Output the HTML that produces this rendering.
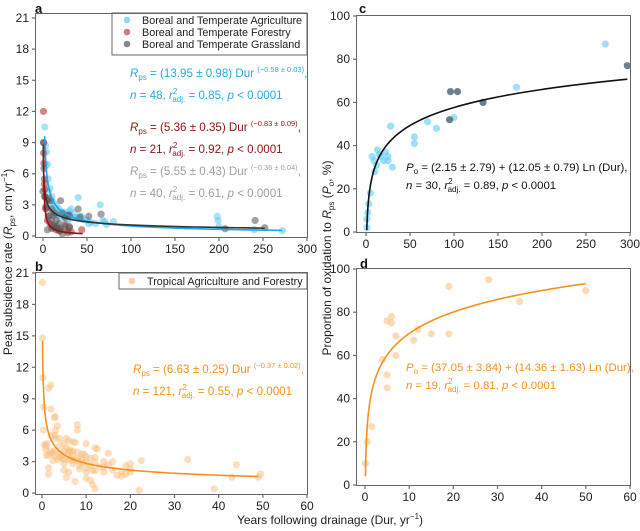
<!DOCTYPE html><html><head><meta charset="utf-8"><style>
body{margin:0;background:#fff;position:relative;width:640px;height:531px;overflow:hidden}
svg{display:block;position:absolute;left:0;top:0;font-family:"Liberation Sans",Arial,sans-serif}
.bx{position:absolute;border:1.5px solid #666;box-sizing:border-box;z-index:2;pointer-events:none}
</style></head><body>
<svg id="s" width="640" height="531" viewBox="0 0 640 531" xmlns="http://www.w3.org/2000/svg">
<g id="g"></g>
</svg>
<div class="bx" style="left:35px;top:13px;width:273px;height:225px"></div>
<div class="bx" style="left:35px;top:272px;width:273px;height:223px"></div>
<div class="bx" style="left:356px;top:15px;width:275px;height:218px"></div>
<div class="bx" style="left:356px;top:268px;width:275px;height:218px"></div>
<script>
var S=document.getElementById('g'),NS='http://www.w3.org/2000/svg';
function el(t,a,txt){var e=document.createElementNS(NS,t);for(var k in a)e.setAttribute(k,a[k]);if(txt!==undefined)e.innerHTML=txt;S.appendChild(e);return e;}
function fr(x,y,w,h){el('rect',{x:x,y:y,width:w,height:h,fill:'#6e6e6e'})}
function panel(P){
 var X=function(v){return P.x0+(v-P.xmin)/(P.xmax-P.xmin)*(P.x1-P.x0)},Y=function(v){return P.y0+(v-P.ymin)/(P.ymax-P.ymin)*(P.y1-P.y0)};
 P.X=X;P.Y=Y;
 P.xt.forEach(function(v){var x=X(v);fr(x-0.6,P.by,1.2,4);el('text',{x:x,y:P.by+16,'font-size':12,'text-anchor':'middle',fill:'#222'},v)});
 P.yt.forEach(function(v){var y=Y(v);fr(P.bx-4,y-0.6,4,1.2);el('text',{x:P.bx-7,y:y+4,'font-size':12,'text-anchor':'end',fill:'#222'},v)});
 return P;}
function pts(P,arr,col,op){arr.forEach(function(p){el('circle',{cx:P.X(p[0]),cy:P.Y(p[1]),r:3.6,fill:col,'fill-opacity':op})})}
function curve(P,f,a,b,col,log){var d='';for(var i=0;i<=200;i++){var t=i/200,x=log?Math.exp(Math.log(a)+t*(Math.log(b)-Math.log(a))):a+t*(b-a);var y=f(x);d+=(i?'L':'M')+P.X(x).toFixed(2)+','+P.Y(y).toFixed(2)}el('path',{d:d,fill:'none',stroke:col,'stroke-width':1.6})}
var A=panel({xmin:0,xmax:300,ymin:0,ymax:21,x0:43,x1:307,y0:236,y1:18,bx:36,rx:307,ty:14,by:237,xt:[0,50,100,150,200,250,300],yt:[0,3,6,9,12,15,18,21]});
pts(A,[[2,10.5],[3,8.7],[4,8.1],[5,6.9],[6,5.5],[8,4.6],[10,3.8],[12,3.2],[15,2.9],[18,2.6],[20,2.4],[22,2.2],[25,2.3],[28,2.0],[30,2.4],[32,2.6],[35,2.2],[38,1.8],[40,3.7],[42,1.9],[45,1.6],[50,1.5],[52,1.2],[55,1.3],[60,1.2],[65,3.0],[68,1.5],[70,1.4],[72,1.1],[80,1.4],[20,1.8],[15,2.0],[25,1.6],[198,1.9],[199,1.5],[200,0.9],[240,0.6],[272,0.5],[10,2.6],[8,3.2],[18,2.0],[28,1.5],[35,1.8],[44,1.9],[3,6.8],[6,4.3],[14,2.5],[30,1.7]],'#5ecbf6',0.55);
pts(A,[[0.5,12],[0.8,9],[0.7,8],[1,7],[1.5,5],[2,4.5],[2,3.8],[3,2.6],[4,2.7],[5,1.5],[8,1.2],[10,1],[12,0.8],[15,0.6],[18,0.5],[20,0.7],[25,1.1],[28,0.5],[30,0.9],[32,0.4],[44,0.6]],'#b8474b',0.65);
pts(A,[[0.5,9],[1,6.5],[1.5,5.5],[0,4.3],[2,3.8],[5,3.4],[7,3.6],[9,3.4],[10,2.6],[12,2.0],[14,2.2],[15,1.5],[18,1.2],[20,3.4],[22,2.2],[25,1.8],[28,2.0],[30,2.0],[40,2.6],[42,1.8],[52,1.9],[66,2.1],[8,2.0],[10,1.5],[12,1.0],[14,0.8],[16,0.9],[18,0.6],[20,0.5],[25,0.9],[30,0.8],[5,0.6],[10,0.7],[22,0.2],[28,0.3],[207,0.7],[241,1.5],[252,0.8],[3,2.8],[6,1.9]],'#555',0.55);
curve(A,function(x){return 13.95*Math.pow(x,-0.58)},1.9,272,'#1ba7ea',1);
curve(A,function(x){return 5.55*Math.pow(x,-0.36)},0.3,252,'#333',1);
curve(A,function(x){return 5.36*Math.pow(x,-0.83)},0.55,45,'#8b1414',1);
el('rect',{x:112,y:13,width:195,height:42,fill:'#fff',stroke:'#666'});
[['#5ecbf6','Boreal and Temperate Agriculture',24],['#b8474b','Boreal and Temperate Forestry',36],['#555','Boreal and Temperate Grassland',48]].forEach(function(l){el('circle',{cx:127,cy:l[2]-4,r:3.3,fill:l[0],'fill-opacity':0.7});el('text',{x:142,y:l[2],'font-size':10.8,fill:'#222'},l[1])});
function eq(x,y,col,c1,n,r,exp){el('text',{x:x,y:y,'font-size':11.6,fill:col},'<tspan font-style="italic">R</tspan><tspan font-size="8" dy="3">ps</tspan><tspan dy="-3"> = '+c1+' Dur </tspan><tspan font-size="7.5" dy="-5">'+exp+'</tspan><tspan dy="5">,</tspan>');
 el('text',{x:x,y:y+22,'font-size':11.6,fill:col},'<tspan font-style="italic">n</tspan> = '+n+', <tspan font-style="italic">r</tspan><tspan font-size="8" dy="-5">2</tspan><tspan font-size="8" dx="-5" dy="8">adj.</tspan><tspan dy="-3"> = '+r+', </tspan><tspan font-style="italic">p</tspan> &lt; 0.0001');}
eq(130,77,'#29aae1','(13.95 ± 0.98)',48,'0.85','(−0.58 ± 0.03)');
eq(130,131,'#8b1414','(5.36 ± 0.35)',21,'0.92','(−0.83 ± 0.09)');
eq(130,175,'#a0a0a0','(5.55 ± 0.43)',40,'0.61','(−0.36 ± 0.04)');
var B=panel({xmin:0,xmax:60,ymin:0,ymax:21,x0:42,x1:307,y0:493,y1:273,bx:36,rx:307,ty:273,by:494,xt:[0,10,20,30,40,50,60],yt:[0,3,6,9,12,15,18,21]});
var bp=[[0.1,20.1],[0.1,14.8],[0.2,11],[0.4,8.2],[1.5,10],[2,10.3],[2,8],[3,7.3],[2.8,7.2],[3,6],[3.5,6.4],[8,6.5],[8,6],[0.5,4.6],[1,4.7],[0.8,4.2],[1,3.6],[1.5,3.6],[2,4],[2.5,3.8],[3,5.5],[3,5.2],[4,5.2],[5,4.7],[5.5,5.2],[6,5],[7,4.9],[7.5,4.8],[5,4],[6,3.8],[6.5,4],[7,3.6],[4,3.4],[4.5,3.3],[2.5,3.1],[3.5,3.2],[5,2.8],[5,2.2],[5.5,1.5],[6,2],[7.5,1.1],[8,3.1],[8.5,2.3],[9,3.2],[9.5,3.7],[10,4.7],[10,3],[10,2.4],[10,2],[10,1.4],[11,1.2],[11.5,0.8],[12,0.4],[12,4.3],[12.5,4.2],[12,3.4],[11.5,2.2],[12,2.1],[14,3],[14,2],[15,3.8],[15,2.7],[16,3],[17,1.7],[18,1.6],[19,1.8],[19,2.6],[20,2.8],[20,2.3],[22,0.25],[22.5,3.1],[33,3.2],[39,0.4],[43,1.5],[44,2.7],[49,1.5],[49.5,1.8],[1.5,2.4],[1.5,1.8],[4,3.8],[6,3.2],[7,2.8],[9,3.7],[8,3.9],[2,5.5],[3,4.1],[4.5,3.6],[5.5,4.3],[6.5,3.3],[7,4],[8,3.3],[9,2.9],[10,3.5],[11,2.6],[13,2.5],[6,3.9],[5,3.2],[3,3.5],[2,3.8],[1,4.5],[4,4.5],[7,3.1],[8.5,2.6],[11,3.3],[12,2.9],[14,2.5],[16,2.2],[18,2.1],[20,2.0],[0.3,6],[6.3,4.1]];
pts(B,bp,'#fbbd7c',0.5);
curve(B,function(x){return 6.63*Math.pow(x,-0.37)},0.12,49,'#f7901e',1);
el('rect',{x:119,y:273,width:188,height:16,fill:'#fff',stroke:'#666'});
el('circle',{cx:132,cy:281,r:3.3,fill:'#fbbd7c','fill-opacity':0.7});
el('text',{x:147,y:285,'font-size':10.8,fill:'#222'},'Tropical Agriculture and Forestry');
eq(133,373,'#f7901e','(6.63 ± 0.25)',121,'0.55','(−0.37 ± 0.02)');
var C=panel({xmin:0,xmax:300,ymin:0,ymax:100,x0:366,x1:630,y0:232,y1:16,bx:357,rx:630,ty:16,by:232,xt:[0,50,100,150,200,250,300],yt:[0,20,40,60,80,100]});
pts(C,[[1,2],[1,6],[2,9],[3,13],[5,18],[7,35],[9,33],[10,28],[12,31],[13,38],[15,36],[17,35],[20,33],[22,37],[25,35],[25,33],[28,49],[30,30],[55,44],[55,41],[70,51],[80,48],[100,53],[171,67],[272,87]],'#5ecbf6',0.6);
pts(C,[[96,65],[95,52],[104,65],[133,60],[297,77]],'#4a6070',0.8);
curve(C,function(x){return 2.15+12.05*Math.log(x)},0.9,297,'#111',1);
function eq2(x,y,col,a,n,r){el('text',{x:x,y:y,'font-size':11.4,fill:col},'<tspan font-style="italic">P</tspan><tspan font-size="8" dy="3">o</tspan><tspan dy="-3"> = '+a+' Ln (Dur),</tspan>');
 el('text',{x:x,y:y+18,'font-size':11.4,fill:col},'<tspan font-style="italic">n</tspan> = '+n+', <tspan font-style="italic">r</tspan><tspan font-size="8" dy="-5">2</tspan><tspan font-size="8" dx="-5" dy="8">adj.</tspan><tspan dy="-3"> = '+r+', </tspan><tspan font-style="italic">p</tspan> &lt; 0.0001');}
eq2(406,171,'#111','(2.15 ± 2.79) + (12.05 ± 0.79)',30,'0.89');
var D=panel({xmin:0,xmax:60,ymin:0,ymax:100,x0:365,x1:630,y0:485,y1:269,bx:357,rx:630,ty:269,by:485,xt:[0,10,20,30,40,50,60],yt:[0,20,40,60,80,100]});
pts(D,[[0.1,10],[0.5,20],[1.5,27],[4,58],[5,51],[5,45],[5,76],[6,78],[6,75],[7,69],[7,60],[11,67],[12,72],[15,70],[19,70],[19,92],[28,95],[35,85],[50,90]],'#fbbd7c',0.55);
curve(D,function(x){return 37.05+14.36*Math.log(x)},0.1,50,'#f7901e',1);
eq2(406,371,'#f7901e','(37.05 ± 3.84) + (14.36 ± 1.63)',19,'0.81');
[['a',35,13],['b',35,271],['c',359,13],['d',360,268]].forEach(function(l){el('text',{x:l[1],y:l[2],'font-size':13,'font-weight':'bold',fill:'#111'},l[0])});
el('text',{transform:'translate(12,262) rotate(-90)','font-size':12,'text-anchor':'middle',fill:'#222'},'Peat subsidence rate (<tspan font-style="italic">R</tspan><tspan font-size="8" dy="3">ps</tspan><tspan dy="-3">, cm yr</tspan><tspan font-size="8" dy="-5">−1</tspan><tspan dy="5">)</tspan>');
el('text',{transform:'translate(331,258) rotate(-90)','font-size':12,'text-anchor':'middle',fill:'#222'},'Proportion of oxidation to <tspan font-style="italic">R</tspan><tspan font-size="8" dy="3">ps</tspan><tspan dy="-3"> (</tspan><tspan font-style="italic">P</tspan><tspan font-size="8" dy="3">o</tspan><tspan dy="-3">, %)</tspan>');
el('text',{x:330,y:524,'font-size':12,'text-anchor':'middle',fill:'#222'},'Years following drainage (Dur, yr<tspan font-size="8" dy="-5">−1</tspan><tspan dy="5">)</tspan>');
</script>
</body></html>
